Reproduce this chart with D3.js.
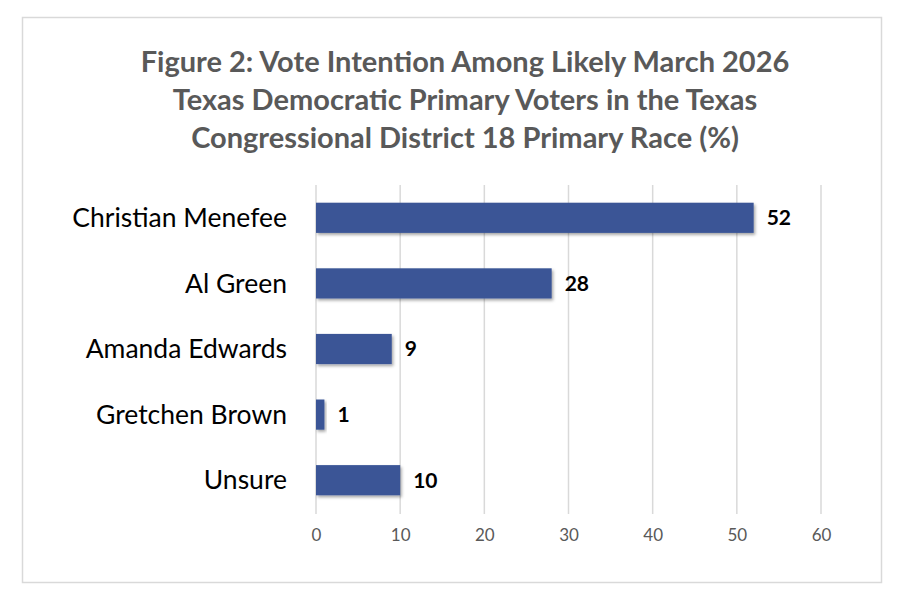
<!DOCTYPE html>
<html>
<head>
<meta charset="utf-8">
<script src="https://cdn.jsdelivr.net/npm/d3@7"></script>
<style>
  body { margin: 0; background: #fff; }
  svg { font-family: Lato, "Open Sans", sans-serif; }
</style>
</head>
<body>
<div id="chart"></div>
<script>
// data
var candidates = ["Christian Menefee", "Al Green", "Amanda Edwards", "Gretchen Brown", "Unsure"];
var percents = [52, 28, 9, 1, 10];
var xTicks = [0, 10, 20, 30, 40, 50, 60];
var titleLines = [
    "Figure 2: Vote Intention Among Likely March 2026",
    "Texas Democratic Primary Voters in the Texas",
    "Congressional District 18 Primary Race (%)"
];

function program() {
    var width = 900,
        height = 600;

    var svg = d3.select("#chart")
        .append("svg")
        .attr("width", width)
        .attr("height", height);

    // shadow for bars
    var defs = svg.append("defs");
    var f = defs.append("filter").attr("id", "shadow")
        .attr("x", "-10%").attr("y", "-30%").attr("width", "130%").attr("height", "180%");
    f.append("feDropShadow")
        .attr("dx", 1.5).attr("dy", 2)
        .attr("stdDeviation", 1.5)
        .attr("flood-color", "#000")
        .attr("flood-opacity", 0.35);

    // outer frame
    svg.append("rect")
        .attr("x", 22.5).attr("y", 17.5)
        .attr("width", 859).attr("height", 565)
        .attr("fill", "#fff")
        .attr("stroke", "#d9d9d9")
        .attr("stroke-width", 1.5);

    // title
    svg.append("g")
        .selectAll("text")
        .data(titleLines)
        .join("text")
        .attr("x", 465)
        .attr("y", function(d, i) { return 72 + i * 38; })
        .attr("text-anchor", "middle")
        .attr("font-size", 29)
        .attr("font-weight", "bold")
        .attr("fill", "#595959")
        .text(function(d) { return d; });

    var x = d3.scaleLinear()
        .domain([0, 60])
        .range([316, 821]);

    var y = d3.scaleBand()
        .domain(candidates)
        .range([185, 513])
        .paddingInner(0.54)
        .paddingOuter(0.27);

    // gridlines
    svg.append("g")
        .selectAll("line")
        .data(xTicks)
        .join("line")
        .attr("x1", function(d) { return x(d); })
        .attr("x2", function(d) { return x(d); })
        .attr("y1", 185)
        .attr("y2", 514)
        .attr("stroke", "#d9d9d9")
        .attr("stroke-width", 1.5);

    // x axis labels
    var xAxis = d3.axisBottom(x)
        .tickValues(xTicks)
        .tickSize(0)
        .tickPadding(0);

    var gx = svg.append("g")
        .attr("transform", "translate(0,529)")
        .call(xAxis);
    gx.select(".domain").remove();
    gx.selectAll("text")
        .attr("font-family", "Lato, 'Open Sans', sans-serif")
        .attr("font-size", 17)
        .attr("fill", "#595959");

    // category labels
    svg.append("g")
        .selectAll("text")
        .data(candidates)
        .join("text")
        .attr("x", 287)
        .attr("y", function(d) { return y(d) + y.bandwidth() / 2; })
        .attr("dy", "0.35em")
        .attr("text-anchor", "end")
        .attr("font-size", 26.5)
        .attr("fill", "#000")
        .text(function(d) { return d; });

    // bars
    svg.append("g")
        .selectAll("rect")
        .data(percents)
        .join("rect")
        .attr("x", x(0))
        .attr("y", function(d, i) { return y(candidates[i]); })
        .attr("width", function(d) { return x(d) - x(0); })
        .attr("height", y.bandwidth())
        .attr("fill", "#3a5496")
        .attr("filter", "url(#shadow)");

    // value labels
    svg.append("g")
        .selectAll("text")
        .data(percents)
        .join("text")
        .attr("x", function(d) { return x(d) + 13; })
        .attr("y", function(d, i) { return y(candidates[i]) + y.bandwidth() / 2; })
        .attr("dy", "0.35em")
        .attr("font-size", 21)
        .attr("font-weight", "bold")
        .attr("fill", "#000")
        .text(function(d) { return d; });
}

program();
</script>
</body>
</html>
